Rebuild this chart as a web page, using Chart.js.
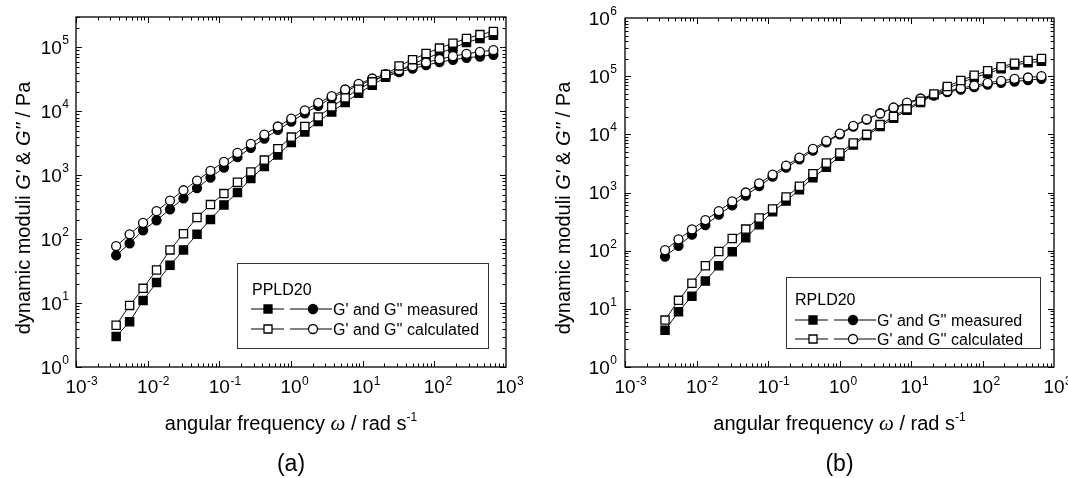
<!DOCTYPE html>
<html>
<head>
<meta charset="utf-8">
<script src="https://cdn.jsdelivr.net/npm/chart.js@4"></script>
<style>
  body { margin: 0; background: #fff; }
  #wrap { display: flex; width: 1068px; height: 478px; }
  canvas { display: block; }
</style>
</head>
<body>
<div id="wrap">
  <canvas id="chartA" width="534" height="478"></canvas>
  <canvas id="chartB" width="534" height="478"></canvas>
</div>
<script>
// angular frequency (rad/s), same sweep for both samples
const omega = [0.00363, 0.0056, 0.00863, 0.0133, 0.0205, 0.0316, 0.0488, 0.0752, 0.116, 0.179,
  0.275, 0.425, 0.655, 1.01, 1.56, 2.40, 3.70, 5.70, 8.79, 13.6,
  20.9, 32.2, 49.7, 76.6, 118, 182, 281, 433, 667];

// (a) PPLD20
const ppldGpMeas = [3.0, 5.1, 11, 21, 39, 68, 119, 203, 344, 537,
  890, 1370, 2080, 3260, 4780, 6930, 9800, 13800, 19300, 25700,
  34300, 43100, 55000, 67500, 81300, 97800, 120000, 138000, 155000];
const ppldGppMeas = [56, 86, 138, 198, 294, 437, 630, 922, 1320, 1920,
  2690, 3760, 5130, 6930, 9350, 12200, 16300, 20500, 25700, 30900,
  35600, 41100, 46800, 52800, 58900, 64100, 68900, 72300, 76700];
const ppldGpCalc = [4.5, 9.2, 17, 33, 68, 122, 218, 348, 517, 780,
  1130, 1730, 2610, 3960, 5800, 8200, 11800, 16300, 22300, 29000,
  37800, 51500, 64500, 80600, 97800, 117000, 138000, 159000, 178000];
const ppldGppCalc = [78, 119, 180, 274, 402, 583, 827, 1170, 1620, 2240,
  3100, 4340, 5800, 7730, 10400, 13600, 17300, 22000, 26900, 32700,
  38200, 44100, 50900, 58200, 65600, 73100, 79500, 85500, 90800];

// (b) RPLD20
const rpldGpMeas = [4.3, 8.9, 16.5, 30, 55, 96, 167, 279, 465, 713,
  1120, 1800, 2710, 4190, 6570, 9510, 13600, 18900, 25900, 35200,
  47800, 61400, 76800, 94900, 111000, 134000, 155000, 170000, 181000];
const rpldGppMeas = [79, 121, 188, 275, 415, 600, 881, 1290, 1870, 2670,
  3720, 5250, 7300, 10000, 13600, 17900, 23100, 28100, 33400, 40700,
  46400, 53000, 58900, 64600, 71900, 76800, 80900, 85300, 89900];
const rpldGpCalc = [6.4, 14, 27.6, 55, 97, 162, 235, 364, 519, 836,
  1280, 2110, 3220, 4780, 7110, 10000, 14700, 20200, 27400, 37100,
  49600, 66400, 84200, 104000, 124000, 145000, 167000, 186000, 201000];
const rpldGppCalc = [102, 156, 232, 336, 479, 703, 1000, 1440, 2030, 2900,
  3980, 5610, 7700, 10300, 14000, 18200, 22800, 28900, 35200, 41300,
  48300, 55200, 62100, 69000, 76800, 83200, 89900, 94900, 100000];

// axis decades (tick labels are 10^n)
const xDecades = [-3, -2, -1, 0, 1, 2, 3];
const yDecadesA = [0, 1, 2, 3, 4, 5];
const yDecadesB = [0, 1, 2, 3, 4, 5, 6];

const legendRows = ["G' and G'' measured", "G' and G'' calculated"];

const FONT = '"Liberation Sans", Arial, sans-serif';

function pts(ys) {
  return omega.map((w, i) => ({ x: w, y: ys[i] }));
}

function series(ys, style, filled) {
  return {
    data: pts(ys),
    borderColor: '#111',
    borderWidth: 1,
    pointStyle: style,
    pointRadius: style === 'rect' ? 5.8 : 4.5,
    pointBorderWidth: 1.3,
    pointBorderColor: '#000',
    pointBackgroundColor: filled ? '#000' : '#fff',
    fill: false,
    tension: 0
  };
}

// draws text made of several styled pieces, centred on x
function drawPieces(ctx, pieces, cx, baseline) {
  let total = 0;
  pieces.forEach(p => { ctx.font = p.font; total += ctx.measureText(p.t).width; });
  let x = cx - total / 2;
  ctx.textAlign = 'left';
  ctx.textBaseline = 'alphabetic';
  pieces.forEach(p => {
    ctx.font = p.font;
    ctx.fillText(p.t, x, baseline + (p.dy || 0));
    x += ctx.measureText(p.t).width;
  });
}

function drawMarker(ctx, kind, filled, x, y) {
  ctx.beginPath();
  if (kind === 'rect') ctx.rect(x - 4, y - 4, 8, 8);
  else ctx.arc(x, y, 4.5, 0, Math.PI * 2);
  ctx.fillStyle = filled ? '#000' : '#fff';
  ctx.fill();
  ctx.lineWidth = 1.3;
  ctx.strokeStyle = '#000';
  ctx.stroke();
}

const paperFrame = {
  id: 'paperFrame',
  afterDraw(chart, args, opts) {
    const { ctx, chartArea: { left, right, top, bottom }, scales: { x, y } } = chart;
    ctx.save();
    ctx.fillStyle = '#000';
    ctx.strokeStyle = '#000';

    // frame
    ctx.lineWidth = 1.3;
    ctx.strokeRect(left, top, right - left, bottom - top);

    // inward ticks on all four sides
    ctx.lineWidth = 1;
    ctx.beginPath();
    for (let d = -3; d <= 2; d++) {
      for (let k = 1; k <= 9; k++) {
        const v = k * Math.pow(10, d);
        const px = Math.round(x.getPixelForValue(v)) + 0.5;
        const len = k === 1 ? 6 : 3.5;
        ctx.moveTo(px, bottom); ctx.lineTo(px, bottom - len);
        ctx.moveTo(px, top); ctx.lineTo(px, top + len);
      }
    }
    const yTop = Math.log10(y.max);
    for (let d = 0; d < Math.ceil(yTop); d++) {
      for (let k = 1; k <= 9; k++) {
        const v = k * Math.pow(10, d);
        if (v > y.max * 1.001) continue;
        const py = Math.round(y.getPixelForValue(v)) + 0.5;
        const len = k === 1 ? 6 : 3.5;
        ctx.moveTo(left, py); ctx.lineTo(left + len, py);
        ctx.moveTo(right, py); ctx.lineTo(right - len, py);
      }
    }
    ctx.stroke();

    // tick labels 10^n
    ctx.textBaseline = 'alphabetic';
    ctx.textAlign = 'left';
    xDecades.forEach(n => {
      const px = x.getPixelForValue(Math.pow(10, n));
      ctx.font = '19px ' + FONT;
      const w = ctx.measureText('10').width;
      ctx.fillText('10', px - w / 2, bottom + 26);
      ctx.font = '12px ' + FONT;
      ctx.fillText(String(n), px + w / 2 + 0.5, bottom + 18);
    });
    opts.yDecades.forEach(n => {
      const py = y.getPixelForValue(Math.pow(10, n));
      ctx.font = '12px ' + FONT;
      const we = ctx.measureText(String(n)).width;
      const r = left - opts.labelGap;
      ctx.fillText(String(n), r - we, py - 3);
      ctx.font = '19px ' + FONT;
      const w = ctx.measureText('10').width;
      ctx.fillText('10', r - we - 0.5 - w, py + 6.5);
    });

    // axis titles
    const cx = (left + right) / 2;
    drawPieces(ctx, [
      { t: 'angular frequency ', font: '20px ' + FONT },
      { t: 'ω', font: 'italic 21px "Liberation Serif", serif' },
      { t: ' / rad s', font: '20px ' + FONT },
      { t: '-1', font: '12px ' + FONT, dy: -9 }
    ], cx, 430);

    ctx.save();
    ctx.translate(opts.yTitleX, opts.yTitleY);
    ctx.rotate(-Math.PI / 2);
    drawPieces(ctx, [
      { t: 'dynamic moduli ', font: '20px ' + FONT },
      { t: "G'", font: 'italic 20px ' + FONT },
      { t: ' & ', font: '20px ' + FONT },
      { t: "G''", font: 'italic 20px ' + FONT },
      { t: ' / Pa', font: '20px ' + FONT }
    ], 0, 0);
    ctx.restore();

    // panel caption
    ctx.font = '23px ' + FONT;
    ctx.textAlign = 'center';
    ctx.fillText(opts.caption, cx, 471);

    // legend box
    const L = opts.legend;
    ctx.lineWidth = 1;
    ctx.strokeStyle = '#333';
    ctx.strokeRect(L.x + 0.5, L.y + 0.5, L.w, L.h);
    ctx.strokeStyle = '#000';
    ctx.font = '16px ' + FONT;
    ctx.textAlign = 'left';
    ctx.fillText(opts.sample, L.x + L.nameDx, L.nameY + 6);
    legendRows.forEach((txt, i) => {
      const ry = L.rowY[i];
      const filled = i === 0;
      ctx.lineWidth = 1;
      ctx.beginPath();
      ctx.moveTo(L.x + L.line1[0], ry); ctx.lineTo(L.x + L.line1[1], ry);
      ctx.moveTo(L.x + L.line2[0], ry); ctx.lineTo(L.x + L.line2[1], ry);
      ctx.stroke();
      drawMarker(ctx, 'rect', filled, L.x + L.sq, ry);
      drawMarker(ctx, 'circle', filled, L.x + L.ci, ry);
      ctx.fillStyle = '#000';
      ctx.font = '16px ' + FONT;
      ctx.fillText(txt, L.x + L.textDx, ry + 6);
    });
    ctx.restore();
  }
};

function makeChart(id, sets, yMax, pad, frameOpts) {
  return new Chart(document.getElementById(id), {
    type: 'line',
    data: { datasets: sets },
    options: {
      responsive: false,
      animation: false,
      events: [],
      layout: { padding: pad },
      scales: {
        x: { type: 'logarithmic', min: 0.001, max: 1000, display: false },
        y: { type: 'logarithmic', min: 1, max: yMax, display: false }
      },
      plugins: {
        legend: { display: false },
        tooltip: { enabled: false },
        paperFrame: frameOpts
      }
    },
    plugins: [paperFrame]
  });
}

makeChart('chartA', [
  series(ppldGpCalc, 'rect', false),
  series(ppldGppCalc, 'circle', false),
  series(ppldGpMeas, 'rect', true),
  series(ppldGppMeas, 'circle', true)
], 300000, { left: 76, right: 28, top: 17, bottom: 111 }, {
  yDecades: yDecadesA,
  labelGap: 7,
  yTitleX: 30, yTitleY: 208,
  caption: '(a)',
  sample: 'PPLD20',
  legend: { x: 237, y: 263, w: 251, h: 85, nameDx: 15, nameY: 289, rowY: [309, 329],
    line1: [14, 47], line2: [53, 95], sq: 31, ci: 76, textDx: 96 }
});

makeChart('chartB', [
  series(rpldGpCalc, 'rect', false),
  series(rpldGppCalc, 'circle', false),
  series(rpldGpMeas, 'rect', true),
  series(rpldGppMeas, 'circle', true)
], 1000000, { left: 91, right: 14, top: 18, bottom: 111 }, {
  yDecades: yDecadesB,
  labelGap: 8,
  yTitleX: 36, yTitleY: 208,
  caption: '(b)',
  sample: 'RPLD20',
  legend: { x: 252, y: 277, w: 254, h: 71, nameDx: 9, nameY: 299, rowY: [320, 339],
    line1: [9, 42], line2: [48, 90], sq: 27, ci: 67, textDx: 91 }
});
</script>
</body>
</html>
